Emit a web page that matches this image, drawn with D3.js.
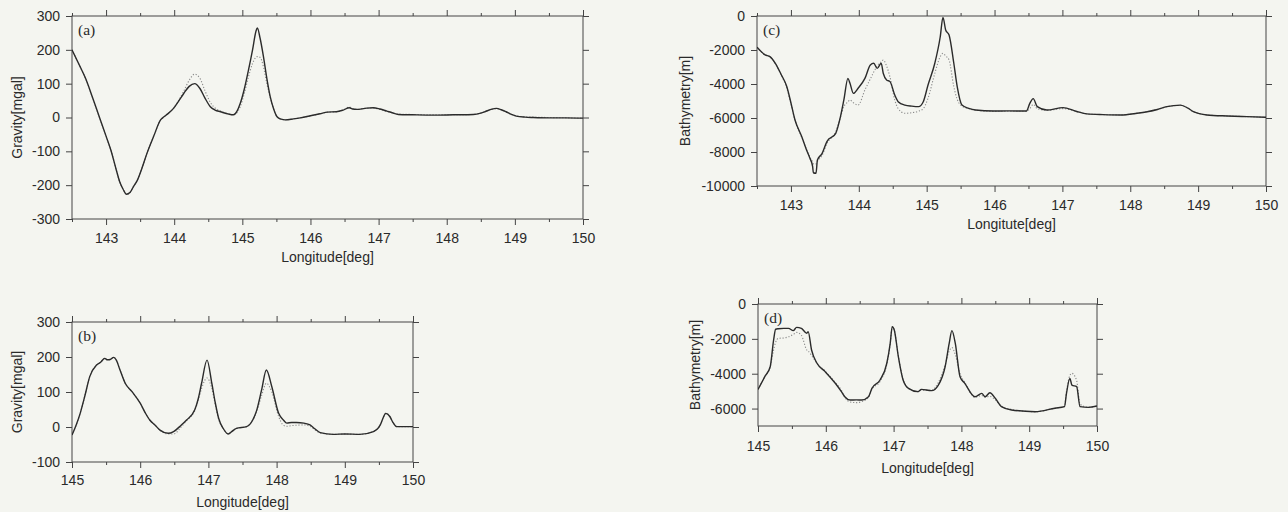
<!DOCTYPE html>
<html>
<head>
<meta charset="utf-8">
<script src="https://cdn.jsdelivr.net/npm/d3@7"></script>
<style>
  body { margin: 0; background: #f4f5f0; }
  svg { display: block; }
  .tick text { font-family: "Liberation Sans", Arial, sans-serif; font-size: 14px; fill: #2a2a2a; }
  .tick line { stroke: #444; }
  .ttl { font-family: "Liberation Sans", Arial, sans-serif; font-size: 14px; fill: #2a2a2a; }
  .plab { font-family: "Liberation Serif", "Times New Roman", serif; font-size: 15.5px; fill: #2a2a2a; }
</style>
</head>
<body>
<svg id="chart" width="1288" height="512"></svg>
<script>
// (a) gravity profile, western line
const lonA = [142.5,142.6,142.7,142.8,142.9,143.0,143.07,143.15,143.2,143.25,143.3,143.35,143.4,143.46,143.53,143.6,143.7,143.8,143.85,143.9,143.99,144.07,144.14,144.22,144.3,144.38,144.45,144.53,144.6,144.68,144.8,144.87,144.92,144.97,145.03,145.09,145.15,145.2,145.22,145.26,145.31,145.36,145.41,145.46,145.51,145.57,145.63,145.75,145.85,146.0,146.14,146.25,146.38,146.48,146.57,146.62,146.68,146.8,146.92,147.02,147.12,147.2,147.29,147.5,147.8,148.1,148.39,148.5,148.56,148.65,148.73,148.8,148.87,148.95,149.02,149.15,149.27,149.5,149.75,150.0];
const gravObsA = [200,158,115,60,2,-55,-96,-155,-190,-212,-227,-222,-205,-185,-148,-106,-55,-7,2,10,27,50,71,92,100,85,58,32,22,17,10,8,18,42,85,140,200,255,265,235,180,115,61,25,2,-5,-7,-4,-1,5,11,16,17,22,29,25,24,27,29,25,19,14,9,8,7,8,9,13,17,24,27,23,17,9,4,1,0,-1,-1,-2];
const gravCalA = [200,158,115,60,2,-55,-96,-155,-190,-212,-227,-222,-205,-185,-148,-106,-55,-7,2,10,27,52,78,110,128,115,80,45,28,19,11,8,14,32,72,120,160,178,180,178,150,100,58,25,2,-5,-7,-4,-1,5,11,16,17,22,31,26,24,27,28,24,18,14,10,9,8,8,9,13,17,24,26,23,17,9,5,2,1,0,-1,-2];

// (c) bathymetry profile, western line
const lonC = [142.5,142.62,142.69,142.77,142.86,142.94,142.99,143.06,143.16,143.23,143.28,143.32,143.33,143.37,143.39,143.46,143.53,143.66,143.73,143.78,143.84,143.87,143.92,143.99,144.09,144.17,144.22,144.27,144.33,144.36,144.41,144.46,144.53,144.58,144.68,144.78,144.88,144.95,145.02,145.12,145.2,145.24,145.28,145.33,145.4,145.45,145.52,145.62,145.72,145.98,146.2,146.47,146.52,146.57,146.63,146.77,147.01,147.2,147.36,147.6,147.86,148.1,148.25,148.4,148.54,148.74,148.85,148.93,149.13,149.43,149.72,150.0];
const depthObsC = [-1840,-2290,-2390,-2780,-3470,-4160,-4940,-6120,-7100,-7880,-8370,-8860,-9220,-9250,-8470,-8080,-7390,-6900,-5920,-4940,-3670,-3960,-4550,-4250,-3670,-2880,-2780,-3080,-2780,-3370,-3760,-3860,-4650,-5040,-5240,-5300,-5330,-5040,-4060,-2780,-1220,-80,-820,-1120,-2780,-4160,-5240,-5430,-5530,-5590,-5580,-5590,-5140,-4860,-5330,-5530,-5390,-5600,-5760,-5800,-5820,-5720,-5630,-5500,-5330,-5240,-5420,-5630,-5820,-5880,-5920,-5960];
const depthCalC = [-1840,-2290,-2400,-2800,-3500,-4250,-5000,-6150,-7150,-7850,-8300,-8600,-8700,-8700,-8550,-8200,-7500,-6800,-5950,-5330,-5050,-4940,-5100,-5240,-4350,-3700,-3300,-2950,-2690,-2590,-2950,-3600,-4940,-5450,-5720,-5690,-5600,-5450,-4840,-3370,-2390,-2200,-2350,-2590,-4160,-4900,-5300,-5450,-5540,-5610,-5600,-5600,-5450,-5200,-5450,-5550,-5450,-5600,-5760,-5800,-5820,-5720,-5630,-5500,-5330,-5260,-5420,-5630,-5820,-5880,-5920,-5960];

// (b) gravity profile, eastern line
const lonB = [145.0,145.06,145.12,145.19,145.26,145.36,145.42,145.48,145.52,145.56,145.61,145.65,145.7,145.78,145.88,146.0,146.07,146.14,146.22,146.29,146.41,146.49,146.6,146.68,146.8,146.85,146.9,146.98,147.05,147.1,147.15,147.22,147.29,147.35,147.41,147.56,147.65,147.71,147.78,147.85,147.93,148.03,148.1,148.15,148.22,148.29,148.4,148.49,148.56,148.64,148.83,149.0,149.22,149.42,149.52,149.56,149.6,149.66,149.7,149.76,150.0];
const gravObsB = [-23,5,39,90,144,177,185,196,192,193,199,191,165,125,101,68,42,20,5,-9,-18,-13,5,20,49,80,125,191,125,70,25,-5,-20,-12,-4,1,20,49,106,163,115,39,20,11,13,13,11,6,-5,-16,-21,-20,-21,-13,6,25,39,30,15,1,1];
const gravCalB = [-23,5,39,90,144,177,185,196,192,193,199,191,165,125,101,68,42,20,5,-9,-20,-20,0,18,47,75,110,140,110,65,22,-5,-20,-12,-4,1,20,45,90,125,100,30,5,2,4,5,6,2,-8,-17,-21,-20,-21,-13,6,25,39,30,15,1,1];

// (d) bathymetry profile, eastern line
const lonD = [145.0,145.1,145.18,145.23,145.26,145.3,145.38,145.45,145.52,145.57,145.64,145.72,145.74,145.79,145.87,145.99,146.14,146.23,146.28,146.36,146.45,146.53,146.63,146.68,146.8,146.9,146.95,146.98,147.01,147.07,147.14,147.22,147.36,147.41,147.56,147.66,147.76,147.82,147.86,147.91,147.98,148.05,148.2,148.3,148.35,148.42,148.5,148.59,148.74,149.09,149.38,149.52,149.55,149.6,149.63,149.7,149.75,149.87,150.0];
const depthObsD = [-4900,-4170,-3600,-2070,-1450,-1420,-1400,-1400,-1530,-1340,-1400,-1680,-1590,-2640,-3400,-3880,-4550,-5030,-5320,-5510,-5500,-5510,-5320,-4840,-4360,-3400,-2260,-1300,-1490,-3020,-4360,-4840,-5030,-4900,-4970,-4650,-3600,-2260,-1530,-2260,-4170,-4550,-5320,-5130,-5320,-5090,-5410,-5890,-6080,-6180,-5980,-5890,-5130,-4270,-4650,-4740,-5890,-5930,-5850];
const depthCalD = [-4900,-4170,-3600,-2640,-2200,-1970,-1950,-1880,-1750,-1630,-1800,-2640,-2700,-2950,-3400,-3850,-4500,-4950,-5350,-5620,-5660,-5600,-5350,-4900,-4450,-3450,-2300,-1300,-1500,-3000,-4300,-4850,-5030,-4950,-4950,-4500,-3500,-2700,-2500,-2900,-4000,-4500,-5350,-5250,-5350,-5300,-5500,-5850,-6050,-6180,-5980,-5880,-5000,-4100,-3980,-4400,-5750,-5930,-5850];

// tick values
const lonTicksWide = [143,144,145,146,147,148,149,150];
const lonTicksNarrow = [145,146,147,148,149,150];
const gravTicksA = [300,200,100,0,-100,-200,-300];
const gravTicksB = [300,200,100,0,-100];
const depthTicksC = [0,-2000,-4000,-6000,-8000,-10000];
const depthTicksD = [0,-2000,-4000,-6000];

const svg = d3.select("#chart");
const plain = d => String(d);   // keep ASCII hyphen for negatives

function drawPanel(p) {
    const x = d3.scaleLinear().domain(p.xDomain).range([p.left, p.right]);
    const y = d3.scaleLinear().domain(p.yDomain).range([p.bottom, p.top]);
    const g = svg.append("g");

    const halfTicks = d3.range(p.xDomain[0], p.xDomain[1] + 0.001, 0.5)
        .filter(v => Math.abs(v - Math.round(v)) > 0.01);

    // minor ticks top & bottom
    g.append("g").attr("transform", `translate(0,${p.bottom})`)
        .call(d3.axisBottom(x).tickValues(halfTicks).tickSize(3).tickFormat(""));
    g.append("g").attr("transform", `translate(0,${p.top})`)
        .call(d3.axisTop(x).tickValues(halfTicks).tickSize(3).tickFormat(""));

    // major ticks
    g.append("g").attr("transform", `translate(0,${p.bottom})`)
        .call(d3.axisBottom(x).tickValues(p.xTicks).tickSize(6).tickPadding(p.xPad).tickFormat(plain));
    g.append("g").attr("transform", `translate(0,${p.top})`)
        .call(d3.axisTop(x).tickValues(p.xTicks).tickSize(6).tickFormat(""));
    g.append("g").attr("transform", `translate(${p.left},0)`)
        .call(d3.axisLeft(y).tickValues(p.yTicks).tickSize(6).tickPadding(6).tickFormat(plain));
    g.append("g").attr("transform", `translate(${p.right},0)`)
        .call(d3.axisRight(y).tickValues(p.yTicks).tickSize(6).tickFormat(""));

    g.selectAll(".domain").remove();
    g.selectAll(".tick text").attr("font-family", null).attr("font-size", null);

    g.append("rect")
        .attr("x", p.left).attr("y", p.top)
        .attr("width", p.right - p.left).attr("height", p.bottom - p.top)
        .attr("fill", "none").attr("stroke", "#444").attr("stroke-width", 1);

    const clipId = "clip" + p.name;
    g.append("clipPath").attr("id", clipId).append("rect")
        .attr("x", p.left).attr("y", p.top - 4)
        .attr("width", p.right - p.left).attr("height", p.bottom - p.top + 4);

    const line = d3.line().x(d => x(d[0])).y(d => y(d[1])).curve(d3.curveMonotoneX);

    g.append("path")
        .datum(p.lon.map((v, i) => [v, p.calc[i]]))
        .attr("clip-path", `url(#${clipId})`)
        .attr("d", line)
        .attr("fill", "none").attr("stroke", "#8a8a8a")
        .attr("stroke-width", 1.1).attr("stroke-dasharray", "1.2,1.8");

    g.append("path")
        .datum(p.lon.map((v, i) => [v, p.obs[i]]))
        .attr("clip-path", `url(#${clipId})`)
        .attr("d", line)
        .attr("fill", "none").attr("stroke", "#2b2b2b")
        .attr("stroke-width", 1.4).attr("stroke-linejoin", "round");

    g.append("text").attr("class", "plab")
        .attr("x", p.left + 6).attr("y", p.top + 19)
        .text(p.label);

    g.append("text").attr("class", "ttl")
        .attr("x", (p.left + p.right) / 2).attr("y", p.xTitleY)
        .attr("text-anchor", "middle")
        .text(p.xTitle);

    g.append("text").attr("class", "ttl")
        .attr("transform", `translate(${p.yTitleX},${(p.top + p.bottom) / 2}) rotate(-90)`)
        .attr("text-anchor", "middle")
        .text(p.yTitle);
}

drawPanel({
    name: "a", label: "(a)", left: 72, right: 583, top: 16, bottom: 219,
    xDomain: [142.5, 150], yDomain: [-300, 300],
    xTicks: lonTicksWide, yTicks: gravTicksA, xPad: 8,
    lon: lonA, obs: gravObsA, calc: gravCalA,
    xTitle: "Longitude[deg]", xTitleY: 262, yTitle: "Gravity[mgal]", yTitleX: 22
});

drawPanel({
    name: "c", label: "(c)", left: 757, right: 1266, top: 16, bottom: 186,
    xDomain: [142.5, 150], yDomain: [-10000, 0],
    xTicks: lonTicksWide, yTicks: depthTicksC, xPad: 8,
    lon: lonC, obs: depthObsC, calc: depthCalC,
    xTitle: "Longitute[deg]", xTitleY: 229, yTitle: "Bathymetry[m]", yTitleX: 690
});

drawPanel({
    name: "b", label: "(b)", left: 72, right: 413, top: 322, bottom: 462,
    xDomain: [145, 150], yDomain: [-100, 300],
    xTicks: lonTicksNarrow, yTicks: gravTicksB, xPad: 7,
    lon: lonB, obs: gravObsB, calc: gravCalB,
    xTitle: "Longitude[deg]", xTitleY: 507, yTitle: "Gravity[mgal]", yTitleX: 22
});

drawPanel({
    name: "d", label: "(d)", left: 758, right: 1097, top: 304, bottom: 426,
    xDomain: [145, 150], yDomain: [-7000, 0],
    xTicks: lonTicksNarrow, yTicks: depthTicksD, xPad: 9,
    lon: lonD, obs: depthObsD, calc: depthCalD,
    xTitle: "Longitude[deg]", xTitleY: 473, yTitle: "Bathymetry[m]", yTitleX: 700
});
</script>
</body>
</html>
